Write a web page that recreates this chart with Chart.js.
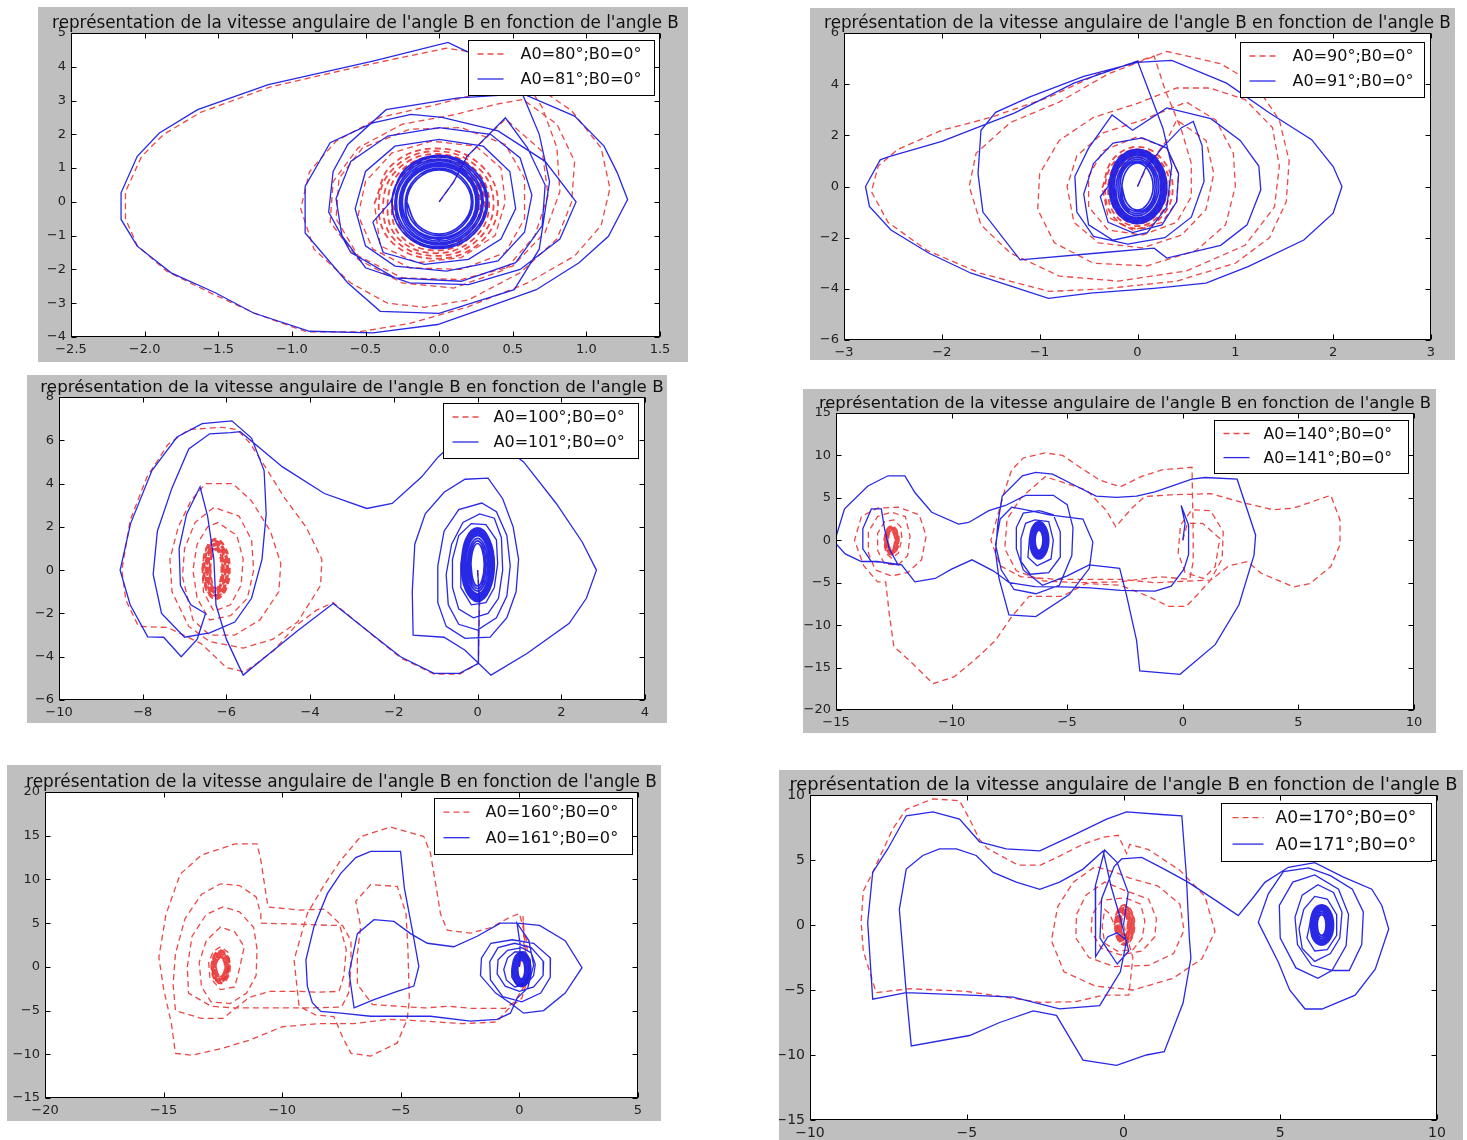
<!DOCTYPE html>
<html>
<head>
<meta charset="utf-8">
<script src="https://cdn.jsdelivr.net/npm/chart.js@4.4.1/dist/chart.umd.min.js"></script>
<style>
html,body{margin:0;padding:0;background:#fff;width:1467px;height:1140px;overflow:hidden}
canvas{position:absolute}
</style>
</head>
<body>
<canvas id="c1"></canvas><canvas id="c2"></canvas><canvas id="c3"></canvas>
<canvas id="c4"></canvas><canvas id="c5"></canvas><canvas id="c6"></canvas>
<script>
// Phase portraits: angular velocity of B against angle B, two close initial angles A0 each.
const chartTitle = "représentation de la vitesse angulaire de l'angle B en fonction de l'angle B";

// ---- tick values ----
const p1XTicks = [-2.5,-2.0,-1.5,-1.0,-0.5,0,0.5,1.0,1.5];
const p1YTicks = [-4,-3,-2,-1,0,1,2,3,4,5];
const p2XTicks = [-3,-2,-1,0,1,2,3];
const p2YTicks = [-6,-4,-2,0,2,4,6];
const p3XTicks = [-10,-8,-6,-4,-2,0,2,4];
const p3YTicks = [-6,-4,-2,0,2,4,6,8];
const p4XTicks = [-15,-10,-5,0,5,10];
const p4YTicks = [-20,-15,-10,-5,0,5,10,15];
const p5XTicks = [-20,-15,-10,-5,0,5];
const p5YTicks = [-15,-10,-5,0,5,10,15,20];
const p6XTicks = [-10,-5,0,5,10];
const p6YTicks = [-15,-10,-5,0,5,10];

// ---- legend labels ----
const p1Labels = ['A0=80°;B0=0°','A0=81°;B0=0°'];
const p2Labels = ['A0=90°;B0=0°','A0=91°;B0=0°'];
const p3Labels = ['A0=100°;B0=0°','A0=101°;B0=0°'];
const p4Labels = ['A0=140°;B0=0°','A0=141°;B0=0°'];
const p5Labels = ['A0=160°;B0=0°','A0=161°;B0=0°'];
const p6Labels = ['A0=170°;B0=0°','A0=171°;B0=0°'];

// ---- trajectories as flat (angle, velocity) lists ----
// A0=80 / 81
const p1RedPath = [0,0, 0.1,0.6, 0.19,1.35, 0.45,2.45, 0.7,1.5, 0.74,0.2, 0.65,-1.0, 0.45,-2.0, 0.1,-2.55, -0.25,-2.4, -0.55,-1.7, -0.74,-0.6, -0.72,0.6, -0.55,1.6, -0.25,2.3, 0.1,2.58, 0.4,2.9, 0.57,3.03, 0.8,2.3, 0.92,1.2, 0.9,0.0, 0.8,-1.1, 0.55,-2.1, 0.2,-2.9, -0.1,-3.12, -0.35,-3.0, -0.6,-2.4, -0.85,-1.4, -0.94,-0.2, -0.88,0.9, -0.7,1.8, -0.4,2.5, 0.0,2.9, 0.35,3.3, 0.6,3.6, 0.9,2.7, 1.1,1.6, 1.16,0.4, 1.1,-0.7, 0.92,-1.6, 0.6,-2.4, 0.2,-3.1, -0.2,-3.6, -0.55,-3.85, -0.9,-3.85, -1.25,-3.3, -1.55,-2.7, -1.85,-2.05, -2.05,-1.3, -2.13,-0.5, -2.13,0.3, -2.02,1.35, -1.87,2.0, -1.62,2.65, -1.15,3.4, -0.5,4.05, 0.05,4.55, 0.35,4.35, 0.55,3.8, 0.7,2.8, 0.8,1.6, 0.82,0.3, 0.72,-0.9, 0.5,-1.9, 0.15,-2.3, -0.25,-2.25, -0.55,-1.6, -0.7,-0.5, -0.68,0.7, -0.52,1.6, -0.2,2.15, 0.15,2.2, 0.45,1.7, 0.58,0.7, 0.58,-0.5, 0.45,-1.5, 0.15,-2.0, -0.2,-1.95, -0.45,-1.4, -0.55,-0.4, -0.5,0.6, -0.32,1.45, -0.05,1.8, 0.25,1.65, 0.42,1.0, 0.45,0.0, 0.38,-1.0, 0.15,-1.65, -0.15,-1.8, -0.4,-1.3, -0.44,-0.05];
const p1RedRing = [-0.44,-0.05, -0.32,1.1, -0.02,1.58, 0.28,1.1, 0.4,-0.05, 0.28,-1.2, -0.02,-1.68, -0.32,-1.2,
 -0.41,-0.05, -0.3,1.03, -0.02,1.5, 0.26,1.03, 0.37,-0.05, 0.26,-1.13, -0.02,-1.6, -0.3,-1.13,
 -0.38,-0.05, -0.28,0.97, -0.02,1.42, 0.24,0.97, 0.34,-0.05, 0.24,-1.07, -0.02,-1.52, -0.28,-1.07,
 -0.35,-0.05, -0.26,0.91, -0.02,1.34, 0.22,0.91, 0.31,-0.05, 0.22,-1.01, -0.02,-1.44, -0.26,-1.01,
 -0.32,-0.05, -0.23,0.86, -0.02,1.26, 0.19,0.86, 0.28,-0.05, 0.19,-0.96, -0.02,-1.36, -0.23,-0.96, -0.32,-0.05];
const p1BluePath = [0,0, 0.1,0.6, 0.19,1.35, 0.45,2.49, 0.6,1.6, 0.72,0.5, 0.7,-0.7, 0.52,-1.8, 0.15,-2.35, -0.3,-2.25, -0.6,-1.5, -0.75,-0.3, -0.72,0.9, -0.62,1.7, -0.36,2.73, 0.13,3.08, 0.57,3.2, 0.92,2.54, 1.12,1.65, 1.21,0.86, 1.28,0.07, 1.15,-1.02, 0.95,-1.8, 0.66,-2.6, 0.28,-3.19, -0.01,-3.63, -0.45,-3.88, -0.88,-3.83, -1.26,-3.29, -1.52,-2.69, -1.82,-2.1, -2.05,-1.31, -2.16,-0.52, -2.16,0.27, -2.05,1.35, -1.9,2.04, -1.64,2.73, -1.16,3.47, -0.45,4.17, 0.06,4.72, 0.19,4.45, 0.42,3.75, 0.57,3.15, 0.68,2.0, 0.75,0.6, 0.68,-1.4, 0.51,-2.6, 0.0,-3.3, -0.4,-3.24, -0.62,-2.4, -0.91,-0.92, -0.91,0.46, -0.74,1.75, -0.45,2.34, -0.19,2.59, 0.02,2.5, 0.4,2.1, 0.72,1.2, 0.93,0.0, 0.82,-1.1, 0.55,-2.0, 0.2,-2.45, -0.2,-2.4, -0.5,-1.95, -0.66,-1.0, -0.7,0.1, -0.6,1.2, -0.35,1.95, 0.0,2.2, 0.35,2.0, 0.55,1.3, 0.63,0.2, 0.58,-0.9, 0.4,-1.75, 0.05,-2.05, -0.3,-1.9, -0.5,-1.3, -0.57,-0.2, -0.5,0.9, -0.3,1.65, 0.0,1.85, 0.3,1.65, 0.48,0.9, 0.52,-0.2, 0.42,-1.1, 0.2,-1.7, -0.1,-1.85, -0.38,-1.5, -0.45,-0.6, -0.33,0];
const p1BlueRing = [-0.33,0, -0.23,0.97, 0,1.38, 0.23,0.97, 0.33,0, 0.23,-0.97, 0,-1.38, -0.23,-0.97,
 -0.32,0, -0.22,0.93, 0,1.33, 0.22,0.93, 0.32,0, 0.22,-0.93, 0,-1.33, -0.22,-0.93,
 -0.3,0, -0.21,0.89, 0,1.27, 0.21,0.89, 0.3,0, 0.21,-0.89, 0,-1.27, -0.21,-0.89,
 -0.29,0, -0.2,0.85, 0,1.22, 0.2,0.85, 0.29,0, 0.2,-0.85, 0,-1.22, -0.2,-0.85,
 -0.27,0, -0.19,0.81, 0,1.16, 0.19,0.81, 0.27,0, 0.19,-0.81, 0,-1.16, -0.19,-0.81,
 -0.26,0, -0.18,0.78, 0,1.11, 0.18,0.78, 0.26,0, 0.18,-0.78, 0,-1.11, -0.18,-0.78,
 -0.25,0, -0.18,0.74, 0,1.06, 0.18,0.74, 0.25,0, 0.18,-0.74, 0,-1.06, -0.18,-0.74,
 -0.23,0, -0.16,0.7, 0,1.0, 0.16,0.7, 0.23,0, 0.16,-0.7, 0,-1.0, -0.16,-0.7,
 -0.22,0, -0.15,0.67, 0,0.95, 0.15,0.67, 0.22,0, 0.15,-0.67, 0,-0.95, -0.15,-0.67, -0.22,0];

// A0=90 / 91
const p2RedPath = [0,0, 0.1,0.8, 0.3,1.8, 0.4,2.6, 0.7,1.8, 0.78,0.5, 0.7,-0.9, 0.45,-1.9, 0.05,-2.4, -0.4,-2.2, -0.65,-1.4, -0.72,0.0, -0.62,1.2, -0.35,2.1, 0.05,2.6, 0.5,3.3, 0.8,2.6, 0.98,1.3, 1.0,0.0, 0.9,-1.5, 0.6,-2.5, 0.1,-3.1, -0.45,-3.0, -0.85,-2.2, -1.02,-0.9, -1.0,0.5, -0.8,1.8, -0.45,2.7, 0.0,3.25, 0.4,3.85, 0.74,3.85, 1.1,3.4, 1.38,2.3, 1.45,0.8, 1.4,-0.8, 1.1,-2.3, 0.5,-3.3, -0.2,-3.7, -0.8,-3.5, -1.3,-2.6, -1.6,-1.5, -1.72,0.0, -1.65,1.3, -1.3,2.5, -0.8,3.3, -0.3,4.4, 0.3,5.28, 0.85,4.8, 1.2,4.0, 1.45,2.6, 1.55,1.0, 1.52,-0.6, 1.35,-2.0, 1.0,-3.0, 0.4,-3.7, -0.35,-4.0, -0.9,-4.1, -1.6,-3.4, -2.15,-2.5, -2.55,-1.4, -2.72,-0.2, -2.65,0.8, -2.45,1.45, -2.0,2.2, -1.5,2.7, -0.9,3.5, -0.4,4.4, 0.17,5.1, 0.28,3.8, 0.45,2.2, 0.55,0.9, 0.55,-0.4, 0.4,-1.4, 0.05,-1.9, -0.3,-1.7, -0.5,-0.8, -0.5,0.4, -0.35,1.4, 0.0,1.95, 0.3,1.5, 0.42,0.5, 0.4,-0.6, 0.25,-1.4, -0.05,-1.7, -0.3,-1.2, -0.36,-0.05];
const p2RedRing = [-0.36,-0.05, -0.25,1.07, 0,1.55, 0.25,1.07, 0.36,-0.05, 0.25,-1.17, 0,-1.65, -0.25,-1.17,
 -0.33,-0.05, -0.23,1.0, 0,1.45, 0.23,1.0, 0.33,-0.05, 0.23,-1.1, 0,-1.55, -0.23,-1.1,
 -0.3,-0.05, -0.21,0.93, 0,1.35, 0.21,0.93, 0.3,-0.05, 0.21,-1.03, 0,-1.45, -0.21,-1.03,
 -0.27,-0.05, -0.19,0.86, 0,1.25, 0.19,0.86, 0.27,-0.05, 0.19,-0.96, 0,-1.35, -0.19,-0.96,
 -0.24,-0.05, -0.17,0.79, 0,1.15, 0.17,0.79, 0.24,-0.05, 0.17,-0.89, 0,-1.25, -0.17,-0.89, -0.24,-0.05];
const p2BluePath = [0,0, 0.08,0.7, 0.25,1.5, 0.45,2.3, 0.57,2.54, 0.66,1.6, 0.68,0.2, 0.55,-1.2, 0.28,-2.0, -0.1,-2.25, -0.45,-1.95, -0.62,-1.0, -0.64,0.4, -0.5,1.5, -0.26,2.8, -0.05,2.2, 0.3,3.07, 0.75,2.65, 1.05,1.8, 1.24,0.8, 1.26,-0.13, 1.12,-1.5, 0.85,-2.3, 0.3,-2.8, 0.17,-2.41, -0.4,-2.6, -1.2,-2.87, -1.58,-1.0, -1.63,0.5, -1.6,2.2, -1.45,2.9, -1.1,3.5, -0.55,4.3, 0.0,4.85, 0.35,4.93, 0.91,4.04, 1.35,2.87, 1.78,1.83, 2.0,0.78, 2.09,0.0, 2.0,-1.04, 1.7,-2.09, 1.13,-3.13, 0.7,-3.78, 0.17,-3.98, -0.48,-4.17, -0.91,-4.37, -1.7,-3.39, -2.13,-2.61, -2.52,-1.7, -2.74,-0.78, -2.78,0.0, -2.63,1.04, -2.54,1.17, -2.0,1.76, -1.26,2.87, -0.65,4.04, 0.0,4.9, 0.26,2.28, 0.35,0.8, 0.3,-0.8, 0.1,-1.8, -0.25,-2.1, -0.5,-1.5, -0.55,-0.3, -0.45,0.9, -0.25,1.7, 0.05,1.9, 0.3,1.5, 0.42,0.5, 0.4,-0.6, 0.25,-1.5, -0.05,-1.8, -0.3,-1.4, -0.38,-0.4, -0.3,0];
const p2BlueRing = [-0.3,0, -0.21,1.02, 0,1.45, 0.21,1.02, 0.3,0, 0.21,-1.02, 0,-1.45, -0.21,-1.02,
 -0.29,0, -0.2,0.99, 0,1.41, 0.2,0.99, 0.29,0, 0.2,-0.99, 0,-1.41, -0.2,-0.99,
 -0.28,0, -0.2,0.97, 0,1.38, 0.2,0.97, 0.28,0, 0.2,-0.97, 0,-1.38, -0.2,-0.97,
 -0.27,0, -0.19,0.94, 0,1.34, 0.19,0.94, 0.27,0, 0.19,-0.94, 0,-1.34, -0.19,-0.94,
 -0.26,0, -0.18,0.91, 0,1.3, 0.18,0.91, 0.26,0, 0.18,-0.91, 0,-1.3, -0.18,-0.91,
 -0.25,0, -0.17,0.88, 0,1.26, 0.17,0.88, 0.25,0, 0.17,-0.88, 0,-1.26, -0.17,-0.88,
 -0.24,0, -0.17,0.85, 0,1.22, 0.17,0.85, 0.24,0, 0.17,-0.85, 0,-1.22, -0.17,-0.85,
 -0.22,0, -0.15,0.8, 0,1.14, 0.15,0.8, 0.22,0, 0.15,-0.8, 0,-1.14, -0.15,-0.8,
 -0.2,0, -0.14,0.74, 0,1.06, 0.14,0.74, 0.2,0, 0.14,-0.74, 0,-1.06, -0.14,-0.74,
 -0.18,0, -0.13,0.69, 0,0.98, 0.13,0.69, 0.18,0, 0.13,-0.69, 0,-0.98, -0.13,-0.69,
 -0.16,0, -0.11,0.64, 0,0.92, 0.11,0.64, 0.16,0, 0.11,-0.64, 0,-0.92, -0.11,-0.64, -0.16,0];

// A0=100 / 101
const p3RedPath = [0,0, 0.05,-1.5, 0.03,-3.0, 0.02,-4.31, -0.43,-4.8, -1.04,-4.8, -1.84,-4.05, -2.45,-3.1, -3.45,-1.5, -3.85,-1.85, -4.36,-2.6, -4.86,-3.7, -5.27,-4.3, -5.57,-4.7, -6.0,-4.5, -6.6,-3.4, -7.4,-2.65, -8.1,-2.6, -8.4,-1.4, -8.5,0.0, -8.3,2.3, -7.9,4.3, -7.4,5.8, -6.9,6.5, -6.1,6.6, -5.75,6.5, -5.45,5.9, -5.05,4.7, -4.6,3.3, -4.1,2.0, -3.72,0.5, -3.75,-0.7, -4.3,-2.4, -4.9,-3.2, -5.6,-3.6, -6.4,-3.3, -6.9,-2.6, -7.3,-1.0, -7.35,0.5, -7.15,2.0, -6.85,3.2, -6.5,4.0, -5.85,4.0, -5.4,3.2, -4.95,1.8, -4.7,0.3, -4.75,-1.0, -5.2,-2.3, -5.8,-3.0, -6.4,-3.0, -6.8,-2.3, -7.05,-0.3, -7.0,1.0, -6.75,2.2, -6.3,2.9, -5.7,2.5, -5.4,1.4, -5.35,0.0, -5.5,-1.3, -5.9,-2.1, -6.4,-2.3, -6.7,-1.3, -6.8,0.0, -6.7,1.2, -6.45,2.0, -6.2,2.2, -5.75,1.6, -5.6,0.5, -5.65,-0.7, -5.9,-1.6, -6.3,-1.9, -6.55,-1.0, -6.58,0.05];
const p3RedRing = [-6.58,0.05, -6.48,1.03, -6.25,1.45, -6.02,1.03, -5.92,0.05, -6.02,-0.93, -6.25,-1.35, -6.48,-0.93,
 -6.56,0.05, -6.47,1.0, -6.25,1.4, -6.03,1.0, -5.94,0.05, -6.03,-0.9, -6.25,-1.3, -6.47,-0.9,
 -6.54,0.05, -6.45,0.96, -6.25,1.35, -6.05,0.96, -5.96,0.05, -6.05,-0.86, -6.25,-1.25, -6.45,-0.86,
 -6.52,0.05, -6.44,0.93, -6.25,1.3, -6.06,0.93, -5.98,0.05, -6.06,-0.83, -6.25,-1.2, -6.44,-0.83,
 -6.5,0.05, -6.43,0.89, -6.25,1.25, -6.07,0.89, -6.0,0.05, -6.07,-0.79, -6.25,-1.15, -6.43,-0.79,
 -6.48,0.05, -6.41,0.86, -6.25,1.2, -6.09,0.86, -6.02,0.05, -6.09,-0.76, -6.25,-1.1, -6.41,-0.76,
 -6.46,0.05, -6.4,0.82, -6.25,1.15, -6.1,0.82, -6.04,0.05, -6.1,-0.72, -6.25,-1.05, -6.4,-0.72,
 -6.44,0.05, -6.38,0.79, -6.25,1.1, -6.12,0.79, -6.06,0.05, -6.12,-0.69, -6.25,-1.0, -6.38,-0.69,
 -6.42,0.05, -6.37,0.75, -6.25,1.05, -6.13,0.75, -6.08,0.05, -6.13,-0.65, -6.25,-0.95, -6.37,-0.65,
 -6.4,0.05, -6.36,0.72, -6.25,1.0, -6.14,0.72, -6.1,0.05, -6.14,-0.62, -6.25,-0.9, -6.36,-0.62,
 -6.38,0.05, -6.34,0.68, -6.25,0.95, -6.16,0.68, -6.12,0.05, -6.16,-0.58, -6.25,-0.85, -6.34,-0.58, -6.38,0.05];
const p3BluePath = [0,0, 0.04,-1.2, 0.03,-2.8, 0.02,-4.31, -0.43,-4.77, -1.04,-4.77, -1.84,-4.0, -2.45,-3.08, -3.45,-1.54, -4.3,-2.8, -5.0,-3.9, -5.6,-4.85, -6.0,-3.2, -6.25,-1.6, -6.3,0.5, -6.45,2.5, -6.63,3.85, -6.95,2.6, -7.13,1.0, -7.1,-0.7, -6.85,-1.6, -6.5,-2.0, -6.7,-3.2, -7.08,-4.0, -7.5,-3.1, -7.88,-3.08, -8.3,-1.6, -8.54,0.0, -8.29,2.15, -7.78,4.6, -7.18,6.15, -6.58,6.77, -5.87,6.9, -5.4,6.1, -5.1,4.6, -5.05,2.6, -5.15,0.5, -5.4,-1.3, -5.8,-2.4, -6.4,-2.9, -7.0,-3.1, -7.55,-2.0, -7.75,-0.2, -7.65,1.8, -7.3,3.8, -6.9,5.6, -6.4,6.3, -5.9,6.35, -5.67,6.4, -4.66,4.77, -3.66,3.54, -2.65,2.85, -2.04,3.08, -1.34,4.3, -0.94,5.23, -0.5,6.0, 0.3,6.2, 1.1,5.0, 1.88,3.08, 2.5,1.3, 2.84,0.0, 2.6,-1.3, 2.19,-2.46, 1.18,-3.85, 0.32,-4.85, -0.3,-3.7, -0.8,-3.1, -1.54,-3.0, -1.56,-1.0, -1.5,1.2, -1.25,2.6, -0.8,3.6, -0.3,4.2, 0.25,4.25, 0.6,3.3, 0.85,2.0, 0.98,0.5, 0.92,-1.0, 0.7,-2.2, 0.3,-3.1, -0.3,-3.15, -0.75,-2.6, -0.95,-1.5, -0.95,0.2, -0.8,1.8, -0.45,2.8, 0.1,3.1, 0.45,2.7, 0.7,1.6, 0.78,0.2, 0.7,-1.2, 0.45,-2.2, 0.0,-2.77, -0.45,-2.5, -0.7,-1.6, -0.75,-0.2, -0.62,1.2, -0.35,2.2, 0.05,2.6, 0.4,2.4, 0.57,1.5, 0.6,0.0, 0.5,-1.3, 0.25,-2.0, -0.1,-2.2, -0.45,-1.8, -0.6,-0.8, -0.6,0.5, -0.45,1.6, -0.15,2.15, 0.2,2.1, 0.45,1.4, 0.48,0.3, 0.4,-0.8, 0.2,-1.5, -0.15,-1.6, -0.4,-0.8, -0.4,0.25];
const p3BlueRing = [-0.4,0.25, -0.28,1.44, 0,1.95, 0.28,1.44, 0.4,0.25, 0.28,-0.94, 0,-1.45, -0.28,-0.94,
 -0.38,0.25, -0.27,1.4, 0,1.89, 0.27,1.4, 0.38,0.25, 0.27,-0.9, 0,-1.39, -0.27,-0.9,
 -0.36,0.25, -0.25,1.36, 0,1.83, 0.25,1.36, 0.36,0.25, 0.25,-0.86, 0,-1.33, -0.25,-0.86,
 -0.34,0.25, -0.24,1.32, 0,1.77, 0.24,1.32, 0.34,0.25, 0.24,-0.82, 0,-1.27, -0.24,-0.82,
 -0.32,0.25, -0.22,1.27, 0,1.71, 0.22,1.27, 0.32,0.25, 0.22,-0.77, 0,-1.21, -0.22,-0.77,
 -0.3,0.25, -0.21,1.23, 0,1.65, 0.21,1.23, 0.3,0.25, 0.21,-0.73, 0,-1.15, -0.21,-0.73,
 -0.28,0.25, -0.2,1.19, 0,1.59, 0.2,1.19, 0.28,0.25, 0.2,-0.69, 0,-1.09, -0.2,-0.69,
 -0.24,0.25, -0.17,1.1, 0,1.47, 0.17,1.1, 0.24,0.25, 0.17,-0.6, 0,-0.97, -0.17,-0.6,
 -0.2,0.25, -0.14,1.02, 0,1.35, 0.14,1.02, 0.2,0.25, 0.14,-0.52, 0,-0.85, -0.14,-0.52,
 -0.16,0.25, -0.11,0.94, 0,1.23, 0.11,0.94, 0.16,0.25, 0.11,-0.44, 0,-0.73, -0.11,-0.44, -0.16,0.25];

// A0=140 / 141
const p4RedPath = [0,0, 0.2,2.0, 0.86,2.0, 1.6,0.2, 1.4,-3.1, 0.9,-4.5, 0.1,-3.8, -0.2,-1.5, -0.1,1.8, 0.4,3.6, 1.2,3.5, 1.75,1.0, 1.7,-2.2, 1.2,-4.7, 0.2,-4.8, -1.2,-5.0, -2.7,-4.6, -4.2,-4.6, -5.5,-4.6, -7.0,-4.3, -7.9,-3.0, -8.3,0.0, -8.0,3.0, -7.7,5.9, -7.4,8.3, -6.9,9.7, -5.95,10.3, -5.2,10.0, -4.5,8.7, -3.6,7.1, -2.7,6.3, -1.8,7.5, -0.9,8.3, 0.4,8.6, 0.42,5.0, 0.45,1.0, 0.45,-2.5, 0.3,-4.6, -1.0,-4.3, -2.7,-4.9, -4.5,-5.0, -6.0,-4.8, -7.2,-3.6, -7.7,-1.0, -7.6,2.5, -7.0,5.0, -5.95,7.5, -4.16,5.9, -3.3,3.5, -2.9,1.6, -2.2,3.8, -1.65,5.15, -0.57,5.35, 1.2,5.5, 2.65,4.4, 3.9,3.6, 4.8,3.8, 6.4,5.3, 6.8,2.4, 6.8,-0.5, 6.4,-3.1, 5.5,-5.1, 4.8,-5.5, 3.4,-3.9, 2.8,-2.5, 2.0,-3.0, 1.2,-4.7, 0.6,-6.5, 0.15,-7.8, -0.6,-7.8, -1.5,-6.6, -2.7,-5.3, -4.2,-5.1, -5.2,-6.6, -6.65,-6.6, -7.4,-9.0, -8.1,-11.8, -9.0,-14.1, -9.9,-16.1, -10.8,-16.9, -11.7,-14.5, -12.5,-12.5, -12.7,-8.6, -12.85,-4.9, -13.2,-4.9, -13.8,-3.0, -14.2,0.0, -13.9,2.8, -13.2,3.8, -12.3,3.9, -11.4,3.0, -11.1,0.5, -11.3,-2.3, -11.9,-3.8, -12.6,-4.2, -13.3,-3.5, -13.6,-1.5, -13.6,1.0, -13.2,2.8, -12.6,3.3, -12.0,2.8, -11.8,0.5, -11.9,-1.8, -12.3,-2.9, -12.9,-2.8, -13.2,-1.2, -13.2,0.8, -12.9,2.2, -12.5,2.4, -12.2,1.6, -12.15,0.2, -12.3,-1.5, -12.6,-2.1, -12.85,-1.5, -12.92,0];
const p4RedRing = [-12.92,0, -12.82,1.19, -12.6,1.7, -12.38,1.19, -12.28,0, -12.38,-1.19, -12.6,-1.7, -12.82,-1.19,
 -12.9,0, -12.81,1.14, -12.6,1.63, -12.39,1.14, -12.3,0, -12.39,-1.14, -12.6,-1.63, -12.81,-1.14,
 -12.88,0, -12.8,1.09, -12.6,1.56, -12.4,1.09, -12.32,0, -12.4,-1.09, -12.6,-1.56, -12.8,-1.09,
 -12.86,0, -12.78,1.04, -12.6,1.49, -12.42,1.04, -12.34,0, -12.42,-1.04, -12.6,-1.49, -12.78,-1.04,
 -12.84,0, -12.77,0.99, -12.6,1.42, -12.43,0.99, -12.36,0, -12.43,-0.99, -12.6,-1.42, -12.77,-0.99,
 -12.82,0, -12.75,0.95, -12.6,1.35, -12.45,0.95, -12.38,0, -12.45,-0.95, -12.6,-1.35, -12.75,-0.95,
 -12.8,0, -12.74,0.9, -12.6,1.28, -12.46,0.9, -12.4,0, -12.46,-0.9, -12.6,-1.28, -12.74,-0.9,
 -12.78,0, -12.73,0.85, -12.6,1.21, -12.47,0.85, -12.42,0, -12.47,-0.85, -12.6,-1.21, -12.73,-0.85,
 -12.76,0, -12.71,0.8, -12.6,1.14, -12.49,0.8, -12.44,0, -12.49,-0.8, -12.6,-1.14, -12.71,-0.8,
 -12.74,0, -12.7,0.75, -12.6,1.07, -12.5,0.75, -12.46,0, -12.5,-0.75, -12.6,-1.07, -12.7,-0.75, -12.74,0];
const p4BluePath = [0,0, 0.1,2.0, -0.07,4.1, 0.25,1.8, 0.25,-1.7, 0.05,-3.4, -0.5,-5.4, -1.2,-6.0, -2.7,-5.9, -4.0,-5.6, -5.2,-5.5, -6.4,-5.45, -7.5,-5.0, -8.2,-3.6, -9.12,-2.3, -10.0,-3.4, -10.71,-4.5, -11.59,-4.9, -12.16,-2.9, -12.9,-2.6, -13.47,-2.5, -13.84,-1.0, -13.84,1.35, -13.47,3.7, -13.04,3.7, -12.9,1.35, -12.7,-1.0, -12.31,-2.9, -13.2,-2.5, -13.9,-2.5, -14.6,-1.6, -15.07,-0.2, -14.63,3.7, -13.62,6.4, -12.75,7.6, -12.02,7.6, -11.58,5.6, -10.86,3.3, -9.7,1.9, -9.26,2.1, -8.39,3.5, -7.67,4.1, -6.8,5.3, -5.6,5.3, -5.0,4.2, -4.75,1.5, -4.8,-1.8, -5.34,-5.3, -6.36,-6.3, -7.3,-5.8, -7.85,-3.5, -8.1,-0.5, -7.9,2.5, -7.4,3.9, -6.6,3.5, -5.78,3.0, -4.32,2.5, -3.89,-0.2, -4.04,-3.3, -4.91,-6.4, -6.36,-9.0, -7.52,-8.8, -7.95,-4.5, -8.1,-1.4, -8.0,2.0, -7.81,5.2, -6.94,7.6, -6.36,8.0, -5.63,7.8, -4.62,6.4, -3.75,5.2, -2.87,5.05, -2.0,5.2, -1.2,5.7, 0.39,7.2, 0.97,7.4, 2.35,7.2, 3.15,0.6, 3.08,-1.75, 2.43,-7.6, 1.4,-12.3, -0.12,-15.8, -1.86,-15.4, -2.0,-11.8, -2.44,-6.4, -2.73,-3.3, -4.05,-2.9, -5.0,-4.2, -6.07,-5.3, -6.9,-3.5, -7.2,-1.0, -7.2,1.5, -6.9,3.2, -6.2,3.5, -5.6,3.0, -5.3,1.0, -5.3,-2.0, -5.8,-3.8, -6.6,-4.0, -7.0,-2.5, -7.0,0.2, -6.8,2.0, -6.4,2.4, -5.8,2.2, -5.6,0.0, -5.7,-2.2, -6.3,-3.0, -6.7,-2.0, -6.64,0];
const p4BlueRing = [-6.64,0, -6.51,1.54, -6.22,2.2, -5.93,1.54, -5.8,0, -5.93,-1.54, -6.22,-2.2, -6.51,-1.54,
 -6.61,0, -6.5,1.47, -6.22,2.1, -5.94,1.47, -5.83,0, -5.94,-1.47, -6.22,-2.1, -6.5,-1.47,
 -6.59,0, -6.48,1.4, -6.22,2.0, -5.96,1.4, -5.85,0, -5.96,-1.4, -6.22,-2.0, -6.48,-1.4,
 -6.56,0, -6.46,1.33, -6.22,1.9, -5.98,1.33, -5.88,0, -5.98,-1.33, -6.22,-1.9, -6.46,-1.33,
 -6.54,0, -6.44,1.26, -6.22,1.8, -6.0,1.26, -5.9,0, -6.0,-1.26, -6.22,-1.8, -6.44,-1.26,
 -6.51,0, -6.42,1.19, -6.22,1.7, -6.02,1.19, -5.93,0, -6.02,-1.19, -6.22,-1.7, -6.42,-1.19,
 -6.49,0, -6.41,1.12, -6.22,1.6, -6.03,1.12, -5.95,0, -6.03,-1.12, -6.22,-1.6, -6.41,-1.12,
 -6.44,0, -6.37,0.98, -6.22,1.4, -6.07,0.98, -6.0,0, -6.07,-0.98, -6.22,-1.4, -6.37,-0.98,
 -6.39,0, -6.34,0.84, -6.22,1.2, -6.1,0.84, -6.05,0, -6.1,-0.84, -6.22,-1.2, -6.34,-0.84, -6.39,0];

// A0=160 / 161
const p5RedPath = [0,0, 0.2,2.0, 0.15,5.8, 0.25,2.0, 0.2,-2.2, -0.2,-4.0, -0.6,-4.75, -2.04,-4.75, -3.0,-4.5, -4.0,-4.7, -5.15,-4.5, -6.2,-4.3, -6.83,-2.0, -6.83,1.5, -6.69,4.6, -6.9,7.5, -6.27,9.4, -5.15,9.2, -4.78,6.1, -4.7,2.0, -4.64,-3.75, -4.73,-6.0, -5.15,-8.7, -6.27,-10.2, -7.1,-9.9, -7.46,-8.0, -7.82,-5.7, -8.6,-5.5, -9.29,-4.5, -9.5,0.8, -8.94,6.1, -8.2,9.5, -7.53,12.2, -6.69,14.9, -5.43,16.0, -4.03,14.9, -3.75,13.0, -3.5,9.0, -3.33,6.1, -3.04,4.2, -2.06,3.85, -1.2,4.5, -0.38,5.7, 0.0,6.1, 0.3,3.0, 0.4,-1.0, 0.1,-3.6, -0.5,-4.9, -0.96,-6.3, -2.4,-6.5, -4.0,-6.2, -5.5,-6.0, -7.0,-6.5, -8.5,-6.5, -10.0,-6.85, -11.4,-8.4, -12.5,-9.3, -13.8,-10.1, -14.5,-9.9, -14.67,-6.5, -15.0,-2.5, -15.2,1.1, -14.9,6.0, -14.3,10.6, -13.4,12.8, -11.97,14.07, -11.06,14.07, -10.9,12.2, -10.6,6.85, -9.26,6.5, -8.2,6.6, -7.6,5.0, -7.3,2.0, -7.4,-1.0, -7.6,-2.8, -8.5,-2.9, -9.3,-2.8, -10.5,-2.8, -11.4,-3.5, -12.5,-5.9, -13.4,-5.9, -14.5,-5.0, -14.6,-2.0, -14.5,1.5, -14.1,5.5, -13.4,8.3, -12.6,9.5, -11.8,9.3, -11.1,8.0, -10.9,6.0, -10.9,5.0, -9.5,4.9, -8.0,4.75, -7.46,4.75, -7.1,3.0, -7.1,0.0, -7.2,-3.0, -7.5,-4.6, -9.0,-4.7, -10.5,-4.7, -12.0,-4.7, -13.0,-4.5, -13.95,-3.0, -14.0,0.0, -13.8,3.5, -13.2,6.0, -12.5,6.85, -11.8,6.3, -11.2,4.5, -11.06,2.0, -11.1,-1.0, -11.5,-3.0, -12.2,-4.2, -13.0,-4.0, -13.4,-2.3, -13.5,0.5, -13.2,3.0, -12.6,4.56, -12.0,4.0, -11.6,2.3, -11.8,-0.2, -12.0,-2.3, -12.6,-2.6, -13.05,-1.2, -13.1,0.5, -12.9,1.8, -12.6,2.3, -12.3,1.7, -12.2,0.4, -12.4,-1.3, -12.8,-1.6, -13.0,0];
const p5RedRing = [-13.0,0, -12.88,1.33, -12.6,1.9, -12.32,1.33, -12.2,0, -12.32,-1.33, -12.6,-1.9, -12.88,-1.33,
 -12.98,0, -12.87,1.27, -12.6,1.82, -12.33,1.27, -12.22,0, -12.33,-1.27, -12.6,-1.82, -12.87,-1.27,
 -12.96,0, -12.85,1.22, -12.6,1.74, -12.35,1.22, -12.24,0, -12.35,-1.22, -12.6,-1.74, -12.85,-1.22,
 -12.94,0, -12.84,1.16, -12.6,1.66, -12.36,1.16, -12.26,0, -12.36,-1.16, -12.6,-1.66, -12.84,-1.16,
 -12.92,0, -12.82,1.11, -12.6,1.58, -12.38,1.11, -12.28,0, -12.38,-1.11, -12.6,-1.58, -12.82,-1.11,
 -12.9,0, -12.81,1.05, -12.6,1.5, -12.39,1.05, -12.3,0, -12.39,-1.05, -12.6,-1.5, -12.81,-1.05,
 -12.88,0, -12.8,0.99, -12.6,1.42, -12.4,0.99, -12.32,0, -12.4,-0.99, -12.6,-1.42, -12.8,-0.99,
 -12.86,0, -12.78,0.94, -12.6,1.34, -12.42,0.94, -12.34,0, -12.42,-0.94, -12.6,-1.34, -12.78,-0.94,
 -12.84,0, -12.77,0.88, -12.6,1.26, -12.43,0.88, -12.36,0, -12.43,-0.88, -12.6,-1.26, -12.77,-0.88,
 -12.82,0, -12.75,0.83, -12.6,1.18, -12.45,0.83, -12.38,0, -12.45,-0.83, -12.6,-1.18, -12.75,-0.83,
 -12.8,0, -12.74,0.77, -12.6,1.1, -12.46,0.77, -12.4,0, -12.46,-0.77, -12.6,-1.1, -12.74,-0.77,
 -12.78,0, -12.73,0.71, -12.6,1.02, -12.47,0.71, -12.42,0, -12.47,-0.71, -12.6,-1.02, -12.73,-0.71, -12.78,0];
const p5BluePath = [0,0, 0.03,2.6, -0.1,5.0, 0.4,3.0, 0.6,0.2, 0.35,-2.4, -0.1,-3.6, -0.38,-5.3, -0.94,-6.0, -2.06,-6.2, -3.75,-5.65, -6.27,-5.65, -7.53,-5.3, -8.37,-5.1, -8.73,-4.1, -8.94,-2.2, -9.0,0.8, -8.66,4.6, -8.09,8.4, -7.53,10.7, -6.9,12.5, -6.27,13.2, -5.01,13.2, -4.85,9.0, -4.5,4.0, -4.24,0.05, -4.45,-2.2, -5.15,-2.8, -6.13,-3.75, -6.97,-4.7, -7.18,-0.7, -6.83,3.8, -6.13,5.4, -5.29,5.2, -4.59,3.8, -3.88,2.7, -2.77,2.3, -1.78,3.5, -0.8,5.0, -0.1,5.0, 0.85,4.75, 1.93,3.0, 2.64,-0.1, 1.93,-3.0, 1.02,-5.0, 0.18,-5.3, -0.3,-4.3, -1.0,-3.0, -1.64,-1.0, -1.6,1.0, -1.2,2.7, -0.3,3.1, 0.6,2.7, 1.31,1.0, 1.3,-1.2, 0.9,-3.0, 0.1,-4.0, -0.7,-3.4, -1.22,-1.5, -1.25,0.6, -0.9,2.2, -0.2,2.7, 0.5,2.2, 1.02,0.6, 1.0,-1.0, 0.6,-2.3, 0.0,-2.8, -0.6,-2.2, -0.94,-0.8, -0.9,0.8, -0.5,1.9, 0.1,2.2, 0.5,1.6, 0.67,0.3, 0.6,-1.0, 0.3,-2.0, -0.2,-2.3, -0.55,-1.5, -0.66,-0.3, -0.5,1.0, -0.2,1.7, 0.25,1.7, 0.46,0.8, 0.45,-0.6, 0.25,-1.8, -0.1,-2.1, -0.32,-1.2, -0.32,-0.3];
const p5BlueRing = [-0.32,-0.3, -0.2,1.07, 0.08,1.65, 0.36,1.07, 0.48,-0.3, 0.36,-1.67, 0.08,-2.25, -0.2,-1.67,
 -0.3,-0.3, -0.19,1.0, 0.08,1.55, 0.35,1.0, 0.46,-0.3, 0.35,-1.6, 0.08,-2.15, -0.19,-1.6,
 -0.27,-0.3, -0.17,0.93, 0.08,1.45, 0.33,0.93, 0.43,-0.3, 0.33,-1.53, 0.08,-2.05, -0.17,-1.53,
 -0.25,-0.3, -0.15,0.86, 0.08,1.35, 0.31,0.86, 0.41,-0.3, 0.31,-1.46, 0.08,-1.95, -0.15,-1.46,
 -0.22,-0.3, -0.13,0.79, 0.08,1.25, 0.29,0.79, 0.38,-0.3, 0.29,-1.39, 0.08,-1.85, -0.13,-1.39,
 -0.2,-0.3, -0.12,0.73, 0.08,1.17, 0.28,0.73, 0.36,-0.3, 0.28,-1.33, 0.08,-1.77, -0.12,-1.33,
 -0.17,-0.3, -0.1,0.67, 0.08,1.08, 0.26,0.67, 0.33,-0.3, 0.26,-1.27, 0.08,-1.68, -0.1,-1.27,
 -0.12,-0.3, -0.06,0.55, 0.08,0.92, 0.22,0.55, 0.28,-0.3, 0.22,-1.15, 0.08,-1.52, -0.06,-1.15,
 -0.07,-0.3, -0.03,0.46, 0.08,0.78, 0.19,0.46, 0.23,-0.3, 0.19,-1.06, 0.08,-1.38, -0.03,-1.06, -0.07,-0.3];

// A0=170 / 171
const p6RedPath = [0,0, 0.3,-2.5, 0.17,-5.4, -0.65,-5.4, -1.52,-5.9, -2.67,-5.95, -4.16,-5.4, -5.05,-5.1, -6.83,-4.9, -7.89,-5.2, -8.3,-2.0, -8.37,0.2, -8.3,2.6, -8.0,4.05, -7.36,7.4, -6.93,8.9, -6.08,9.7, -5.23,9.56, -4.91,8.15, -4.6,6.6, -4.35,5.9, -3.36,4.6, -2.65,4.6, -2.04,5.3, -1.3,6.2, -0.65,6.75, -0.17,6.9, 0.1,5.5, 0.2,6.2, 0.8,5.8, 1.8,4.2, 2.6,2.2, 2.92,-0.5, 2.5,-2.6, 1.58,-4.1, 0.3,-5.0, -0.9,-4.7, -1.9,-3.6, -2.3,-1.2, -2.1,1.4, -1.6,3.3, -0.9,4.5, -0.2,4.0, 0.2,3.6, 1.1,3.0, 1.8,1.6, 1.93,-0.4, 1.6,-2.2, 0.8,-3.1, -0.3,-3.2, -1.1,-2.5, -1.52,-1.0, -1.5,0.8, -1.2,2.3, -0.6,3.3, 0.1,2.6, 0.8,2.0, 1.05,0.5, 1.0,-0.9, 0.6,-2.0, -0.1,-2.3, -0.7,-1.8, -1.03,-0.5, -1.0,0.8, -0.7,1.9, 0.05,2.1, 0.55,1.6, 0.68,0.3, 0.6,-1.0, 0.3,-1.9, -0.2,-2.0, -0.6,-1.4, -0.68,-0.1, -0.6,1.2, -0.45,0.9, -0.29,0];
const p6RedRing = [-0.29,0, -0.19,1.09, 0.03,1.55, 0.25,1.09, 0.35,0, 0.25,-1.09, 0.03,-1.55, -0.19,-1.09,
 -0.27,0, -0.18,1.04, 0.03,1.48, 0.24,1.04, 0.33,0, 0.24,-1.04, 0.03,-1.48, -0.18,-1.04,
 -0.25,0, -0.17,0.99, 0.03,1.41, 0.23,0.99, 0.31,0, 0.23,-0.99, 0.03,-1.41, -0.17,-0.99,
 -0.23,0, -0.15,0.94, 0.03,1.34, 0.21,0.94, 0.29,0, 0.21,-0.94, 0.03,-1.34, -0.15,-0.94,
 -0.21,0, -0.14,0.89, 0.03,1.27, 0.2,0.89, 0.27,0, 0.2,-0.89, 0.03,-1.27, -0.14,-0.89,
 -0.19,0, -0.12,0.84, 0.03,1.2, 0.18,0.84, 0.25,0, 0.18,-0.84, 0.03,-1.2, -0.12,-0.84,
 -0.17,0, -0.11,0.79, 0.03,1.13, 0.17,0.79, 0.23,0, 0.17,-0.79, 0.03,-1.13, -0.11,-0.79,
 -0.15,0, -0.1,0.74, 0.03,1.06, 0.16,0.74, 0.21,0, 0.16,-0.74, 0.03,-1.06, -0.1,-0.74,
 -0.13,0, -0.08,0.69, 0.03,0.99, 0.14,0.69, 0.19,0, 0.14,-0.69, 0.03,-0.99, -0.08,-0.69,
 -0.11,0, -0.07,0.64, 0.03,0.92, 0.13,0.64, 0.17,0, 0.13,-0.64, 0.03,-0.92, -0.07,-0.64,
 -0.09,0, -0.05,0.6, 0.03,0.85, 0.11,0.6, 0.15,0, 0.11,-0.6, 0.03,-0.85, -0.05,-0.6,
 -0.07,0, -0.04,0.56, 0.03,0.8, 0.1,0.56, 0.13,0, 0.1,-0.56, 0.03,-0.8, -0.04,-0.56, -0.07,0];
const p6BluePath = [0,0, 0.15,2.5, -0.2,4.8, -0.6,5.77, -0.9,3.0, -0.89,-2.44, -0.5,-0.9, -0.2,-0.6, 0.1,-1.2, -0.1,-3.6, -0.76,-6.2, -2.04,-6.45, -3.52,-5.55, -4.91,-5.4, -6.93,-5.2, -8.0,-5.7, -8.16,0.2, -8.0,4.05, -7.52,5.85, -6.93,8.4, -6.08,8.7, -5.23,8.15, -4.59,6.4, -3.74,5.85, -2.67,5.7, -1.61,6.9, -0.54,8.15, 0.1,8.7, 1.2,8.5, 1.86,8.4, 2.0,4.0, 2.1,-1.0, 2.15,-2.56, 1.9,-6.0, 1.3,-9.74, 0.73,-10.0, -0.22,-10.8, -1.29,-10.4, -2.14,-6.95, -2.88,-6.6, -3.95,-7.5, -4.91,-8.5, -6.77,-9.3, -6.93,-5.2, -7.15,1.2, -6.93,4.3, -6.4,5.35, -5.87,5.85, -5.33,5.85, -4.7,5.35, -4.16,4.05, -3.42,3.3, -2.67,2.75, -2.04,3.3, -1.29,4.3, -0.65,5.7, -0.4,3.0, -0.1,0.5, 0.17,-2.0, -0.2,-3.0, -0.75,-1.0, -0.7,2.0, -0.3,4.5, -0.06,5.08, 0.58,5.2, 1.3,4.3, 2.07,3.28, 3.0,1.8, 3.66,0.72, 4.1,2.0, 4.51,3.28, 5.26,4.44, 6.1,4.8, 7.0,3.7, 7.92,2.75, 8.24,1.5, 8.46,-0.3, 8.03,-3.4, 7.39,-5.4, 6.33,-6.46, 5.79,-6.46, 5.3,-5.0, 4.94,-2.87, 4.3,0.2, 4.62,2.4, 5.1,4.1, 5.9,4.4, 6.6,3.8, 7.3,2.75, 7.65,1.0, 7.6,-1.5, 7.2,-3.5, 6.65,-3.5, 6.2,-4.1, 5.5,-3.3, 5.0,-1.0, 4.97,1.5, 5.4,3.3, 6.1,3.85, 6.86,2.75, 7.18,0.8, 7.1,-1.6, 6.65,-3.5, 6.0,-3.1, 5.55,-1.5, 5.47,0.6, 5.7,2.3, 6.2,3.1, 6.7,2.5, 6.97,1.0, 6.9,-1.0, 6.6,-2.2, 6.1,-2.8, 5.7,-1.8, 5.6,-0.3, 5.75,1.2, 6.1,2.2, 6.5,2.0, 6.8,0.8, 6.8,-0.8, 6.5,-1.9, 6.1,-2.0, 5.85,-1.0, 5.94,0];
const p6BlueRing = [5.94,0, 6.05,1.09, 6.32,1.55, 6.59,1.09, 6.7,0, 6.59,-1.09, 6.32,-1.55, 6.05,-1.09,
 5.97,0, 6.07,1.04, 6.32,1.48, 6.57,1.04, 6.67,0, 6.57,-1.04, 6.32,-1.48, 6.07,-1.04,
 5.99,0, 6.09,0.98, 6.32,1.4, 6.55,0.98, 6.65,0, 6.55,-0.98, 6.32,-1.4, 6.09,-0.98,
 6.02,0, 6.11,0.93, 6.32,1.33, 6.53,0.93, 6.62,0, 6.53,-0.93, 6.32,-1.33, 6.11,-0.93,
 6.04,0, 6.12,0.88, 6.32,1.25, 6.52,0.88, 6.6,0, 6.52,-0.88, 6.32,-1.25, 6.12,-0.88,
 6.07,0, 6.14,0.82, 6.32,1.17, 6.5,0.82, 6.57,0, 6.5,-0.82, 6.32,-1.17, 6.14,-0.82,
 6.09,0, 6.16,0.77, 6.32,1.1, 6.48,0.77, 6.55,0, 6.48,-0.77, 6.32,-1.1, 6.16,-0.77,
 6.14,0, 6.19,0.67, 6.32,0.95, 6.45,0.67, 6.5,0, 6.45,-0.67, 6.32,-0.95, 6.19,-0.67,
 6.18,0, 6.22,0.56, 6.32,0.8, 6.42,0.56, 6.46,0, 6.42,-0.56, 6.32,-0.8, 6.22,-0.56, 6.18,0];

// ---- styling and page layout ----
const RED = 'rgba(232,45,45,0.88)';
const BLUE = 'rgba(28,28,228,0.95)';
const FONT = '"DejaVu Sans", "Liberation Sans", sans-serif';

const panels = [
  {id:'c1', box:[38,7,688,362], plot:[71,33,660,337], xr:[-2.5,1.5], yr:[-4,5], xt:p1XTicks, yt:p1YTicks, xdec:1,
   titleSize:16.8, tickSize:13, legend:[468,40,186,55], lgFont:16, lgSample:[9,35], lgText:52,
   labels:p1Labels, red:[p1RedPath,p1RedRing], blue:[p1BluePath,p1BlueRing]},
  {id:'c2', box:[810,8,1455,360], plot:[844,33,1431,340], xr:[-3,3], yr:[-6,6], xt:p2XTicks, yt:p2YTicks, xdec:0,
   titleSize:16.8, tickSize:13, legend:[1240,42,184,55], lgFont:16, lgSample:[9,35], lgText:52,
   labels:p2Labels, red:[p2RedPath,p2RedRing], blue:[p2BluePath,p2BlueRing]},
  {id:'c3', box:[27,375,667,723], plot:[59,397,645,700], xr:[-10,4], yr:[-6,8], xt:p3XTicks, yt:p3YTicks, xdec:0,
   titleSize:16.7, tickSize:13, legend:[443,403,195,55], lgFont:16, lgSample:[9,35], lgText:50,
   labels:p3Labels, red:[p3RedPath,p3RedRing], blue:[p3BluePath,p3BlueRing]},
  {id:'c4', box:[803,389,1436,733], plot:[836,413,1414,710], xr:[-15,10], yr:[-20,15], xt:p4XTicks, yt:p4YTicks, xdec:0,
   titleSize:16.4, tickSize:13, legend:[1214,420,194,53], lgFont:15.7, lgSample:[9,35], lgText:49,
   labels:p4Labels, red:[p4RedPath,p4RedRing], blue:[p4BluePath,p4BlueRing]},
  {id:'c5', box:[7,765,661,1121], plot:[45,792,638,1098], xr:[-20,5], yr:[-15,20], xt:p5XTicks, yt:p5YTicks, xdec:0,
   titleSize:16.9, tickSize:13, legend:[434,798,198,56], lgFont:16.2, lgSample:[9,35], lgText:51,
   labels:p5Labels, red:[p5RedPath,p5RedRing], blue:[p5BluePath,p5BlueRing]},
  {id:'c6', box:[779,770,1463,1140], plot:[810,795,1437,1120], xr:[-10,10], yr:[-15,10], xt:p6XTicks, yt:p6YTicks, xdec:0,
   titleSize:17.9, tickSize:14, legend:[1221,803,210,58], lgFont:17.2, lgSample:[11,42], lgText:54,
   labels:p6Labels, red:[p6RedPath,p6RedRing], blue:[p6BluePath,p6BlueRing]}
];

function toPoints(flat) {
  const pts = [];
  for (let i = 0; i + 1 < flat.length; i += 2) pts.push({x: flat[i], y: flat[i + 1]});
  return pts;
}

function fmt(v, dec) {
  const s = dec ? v.toFixed(dec) : String(Math.round(v));
  return s.replace('-', '\u2212');
}

function lineSet(label, flat, color, dash, tension, width, order) {
  return {
    label, data: toPoints(flat), showLine: true, borderColor: color, backgroundColor: color,
    borderWidth: width, borderDash: dash, pointRadius: 0, pointHoverRadius: 0,
    tension, order, fill: false
  };
}

function decorPlugin(p) {
  return {
    id: 'decor' + p.id,
    beforeDraw(chart) {
      const {ctx, chartArea: a, width, height} = chart;
      ctx.save();
      ctx.fillStyle = '#bfbfbf';
      ctx.fillRect(0, 0, width, height);
      ctx.fillStyle = '#ffffff';
      ctx.fillRect(a.left, a.top, a.right - a.left, a.bottom - a.top);
      ctx.restore();
    },
    afterDraw(chart) {
      const {ctx, chartArea: a, scales} = chart;
      const ox = p.box[0], oy = p.box[1];
      ctx.save();
      // frame
      ctx.strokeStyle = '#000';
      ctx.lineWidth = 1;
      ctx.setLineDash([]);
      const L = Math.round(a.left) + 0.5, T = Math.round(a.top) + 0.5;
      const R = Math.round(a.right) - 0.5, B = Math.round(a.bottom) - 0.5;
      ctx.strokeRect(L, T, R - L, B - T);
      // inward tick marks on all four sides
      ctx.beginPath();
      scales.x.ticks.forEach(t => {
        const px = Math.round(scales.x.getPixelForValue(t.value)) + 0.5;
        ctx.moveTo(px, B); ctx.lineTo(px, B - 5);
        ctx.moveTo(px, T); ctx.lineTo(px, T + 5);
      });
      scales.y.ticks.forEach(t => {
        const py = Math.round(scales.y.getPixelForValue(t.value)) + 0.5;
        ctx.moveTo(L, py); ctx.lineTo(L + 5, py);
        ctx.moveTo(R, py); ctx.lineTo(R - 5, py);
      });
      ctx.stroke();
      // title
      ctx.fillStyle = '#111';
      ctx.font = p.titleSize + 'px ' + FONT;
      ctx.textAlign = 'center';
      ctx.textBaseline = 'alphabetic';
      ctx.fillText(chartTitle, (a.left + a.right) / 2, a.top - 5);
      // legend
      const [lx, ly, lw, lh] = p.legend;
      const bx = Math.round(lx - ox) + 0.5, by = Math.round(ly - oy) + 0.5;
      ctx.fillStyle = '#fff';
      ctx.fillRect(bx, by, lw, lh);
      ctx.strokeStyle = '#000';
      ctx.lineWidth = 1;
      ctx.strokeRect(bx, by, lw, lh);
      const rows = [[RED, [6, 4]], [BLUE, []]];
      const rowY = [lh * 0.245, lh * 0.7];
      rows.forEach((r, i) => {
        const yy = by + rowY[i];
        ctx.strokeStyle = r[0];
        ctx.lineWidth = 1.3;
        ctx.setLineDash(r[1]);
        ctx.beginPath();
        ctx.moveTo(bx + p.lgSample[0], yy);
        ctx.lineTo(bx + p.lgSample[1], yy);
        ctx.stroke();
        ctx.setLineDash([]);
        ctx.fillStyle = '#111';
        ctx.font = p.lgFont + 'px ' + FONT;
        ctx.textAlign = 'left';
        ctx.textBaseline = 'middle';
        ctx.fillText(p.labels[i], bx + p.lgText, yy + 1);
      });
      ctx.restore();
    }
  };
}

function build(p) {
  const cv = document.getElementById(p.id);
  const W = p.box[2] - p.box[0], H = p.box[3] - p.box[1];
  cv.width = W; cv.height = H;
  cv.style.left = p.box[0] + 'px'; cv.style.top = p.box[1] + 'px';
  cv.style.width = W + 'px'; cv.style.height = H + 'px';
  const yW = p.plot[0] - p.box[0];
  const padT = p.plot[1] - p.box[1];
  const padR = p.box[2] - p.plot[2];
  const xH = p.box[3] - p.plot[3];
  const tickFont = {family: FONT, size: p.tickSize};
  new Chart(cv, {
    type: 'scatter',
    data: {
      datasets: [
        lineSet(p.labels[0], p.red[0], RED, [6, 4], 0, 1.3, 2),
        lineSet(p.labels[0], p.red[1], RED, [6, 4], 0.4, 1.8, 2),
        lineSet(p.labels[1], p.blue[0], BLUE, [], 0, 1.3, 1),
        lineSet(p.labels[1], p.blue[1], BLUE, [], 0.4, 1.7, 1)
      ]
    },
    options: {
      responsive: false, maintainAspectRatio: false, animation: false, devicePixelRatio: 1, events: [],
      layout: {padding: {left: 0, top: padT, right: padR, bottom: 0}},
      plugins: {legend: {display: false}, tooltip: {enabled: false}, title: {display: false}},
      scales: {
        x: {
          type: 'linear', min: p.xr[0], max: p.xr[1],
          afterBuildTicks: s => { s.ticks = p.xt.map(v => ({value: v})); },
          afterFit: s => { s.height = xH; },
          grid: {display: false, drawTicks: false}, border: {display: false},
          ticks: {font: tickFont, color: '#222', padding: 5, maxRotation: 0, autoSkip: false,
                  callback: v => fmt(v, p.xdec)}
        },
        y: {
          type: 'linear', min: p.yr[0], max: p.yr[1],
          afterBuildTicks: s => { s.ticks = p.yt.map(v => ({value: v})); },
          afterFit: s => { s.width = yW; },
          grid: {display: false, drawTicks: false}, border: {display: false},
          ticks: {font: tickFont, color: '#222', padding: 5, autoSkip: false,
                  callback: v => fmt(v, 0)}
        }
      }
    },
    plugins: [decorPlugin(p)]
  });
}

panels.forEach(build);
</script>
</body>
</html>
